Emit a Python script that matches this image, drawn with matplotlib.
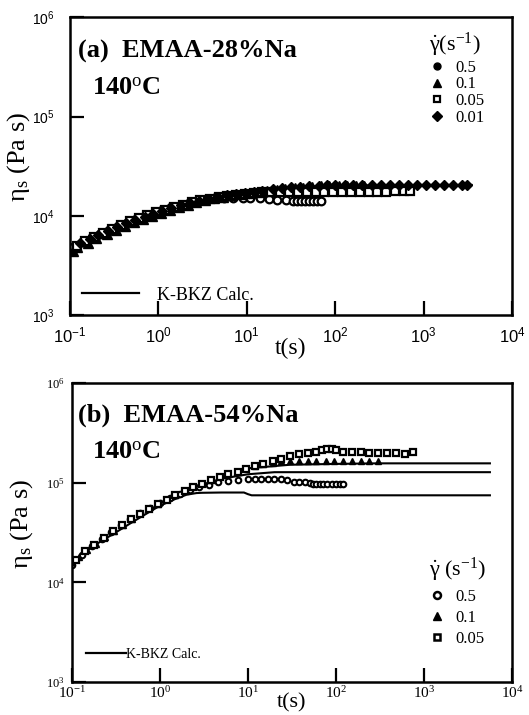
import numpy as np
import matplotlib
matplotlib.use('Agg')
import matplotlib.pyplot as plt
from matplotlib.lines import Line2D

plt.rcParams['font.family'] = ['Liberation Serif', 'DejaVu Serif']
plt.rcParams['mathtext.fontset'] = 'custom'
plt.rcParams['mathtext.rm'] = 'Liberation Serif'
plt.rcParams['mathtext.it'] = 'Liberation Serif:italic'
plt.rcParams['mathtext.bf'] = 'Liberation Serif:bold'
plt.rcParams['mathtext.sf'] = 'Liberation Sans'

# tick positions / labels
xticks = [0.1, 1, 10, 100, 1000, 10000]
yticks = [1e3, 1e4, 1e5, 1e6]
xtick_exp = ['-1', '0', '1', '2', '3', '4']
ytick_exp = ['3', '4', '5', '6']

# ---------------- panel (a) EMAA-28%Na ----------------
a_t_05 = [0.11, 0.14, 0.18, 0.22, 0.28, 0.35, 0.45, 0.56, 0.7, 0.9, 1.1, 1.4, 1.8, 2.2, 2.8, 3.5,
          4.5, 5.6, 7, 9, 11, 14, 18, 22, 28, 33, 37, 41, 45, 50, 56, 63, 70]
a_eta_05 = [4.9e3, 5.5e3, 6.1e3, 6.6e3, 7.2e3, 7.9e3, 8.7e3, 9.4e3, 1.0e4, 1.08e4, 1.14e4, 1.22e4,
            1.3e4, 1.36e4, 1.42e4, 1.47e4, 1.5e4, 1.52e4, 1.53e4, 1.53e4, 1.52e4, 1.5e4, 1.48e4,
            1.46e4, 1.44e4, 1.42e4, 1.41e4, 1.41e4, 1.41e4, 1.41e4, 1.41e4, 1.41e4, 1.41e4]

a_t_01 = [0.11, 0.12, 0.16, 0.2, 0.26, 0.33, 0.42, 0.53, 0.67, 0.85, 1.07, 1.35, 1.7, 2.15, 2.7,
          3.4, 4.3, 5.4, 6.8, 8.6, 11, 14, 17, 22, 27, 35, 43, 55, 70, 85, 110, 135, 170, 210, 260, 330]
a_eta_01 = [4.4e3, 4.9e3, 5.4e3, 6.0e3, 6.6e3, 7.3e3, 8.0e3, 8.7e3, 9.4e3, 1.01e4, 1.08e4, 1.16e4,
            1.23e4, 1.3e4, 1.37e4, 1.44e4, 1.5e4, 1.56e4, 1.61e4, 1.66e4, 1.71e4, 1.76e4, 1.8e4,
            1.84e4, 1.87e4, 1.9e4, 1.93e4, 1.96e4, 1.98e4, 1.99e4, 2.0e4, 2.0e4, 2.0e4, 2.0e4,
            2.0e4, 2.0e4]

a_t_005 = [0.12, 0.15, 0.19, 0.24, 0.3, 0.38, 0.48, 0.6, 0.75, 0.95, 1.2, 1.5, 1.9, 2.4, 3.0, 3.8,
           4.8, 6.0, 7.5, 9.5, 12, 15, 19, 24, 30, 38, 48, 60, 75, 95, 120, 150, 190, 240, 300,
           380, 480, 600, 700]
a_eta_005 = [5.0e3, 5.6e3, 6.2e3, 6.8e3, 7.4e3, 8.1e3, 8.8e3, 9.5e3, 1.02e4, 1.09e4, 1.16e4,
             1.23e4, 1.3e4, 1.37e4, 1.43e4, 1.49e4, 1.55e4, 1.6e4, 1.64e4, 1.68e4, 1.71e4, 1.73e4,
             1.74e4, 1.75e4, 1.75e4, 1.75e4, 1.75e4, 1.75e4, 1.75e4, 1.75e4, 1.75e4, 1.75e4,
             1.75e4, 1.75e4, 1.75e4, 1.76e4, 1.77e4, 1.78e4, 1.78e4]

a_t_001 = [0.13, 0.17, 0.21, 0.27, 0.34, 0.43, 0.55, 0.7, 0.88, 1.1, 1.4, 1.8, 2.3, 2.9, 3.7, 4.7,
           6, 7.6, 9.6, 12, 15, 20, 25, 32, 40, 50, 65, 80, 100, 130, 160, 200, 260, 330, 420, 530,
           670, 850, 1070, 1350, 1700, 2150, 2700, 3100]
a_eta_001 = [5.3e3, 5.9e3, 6.5e3, 7.1e3, 7.7e3, 8.4e3, 9.1e3, 9.8e3, 1.05e4, 1.12e4, 1.2e4,
             1.28e4, 1.35e4, 1.42e4, 1.49e4, 1.55e4, 1.61e4, 1.66e4, 1.7e4, 1.75e4, 1.8e4, 1.85e4,
             1.9e4, 1.94e4, 1.97e4, 2.0e4, 2.02e4, 2.04e4, 2.05e4, 2.05e4, 2.05e4, 2.05e4, 2.05e4,
             2.05e4, 2.05e4, 2.05e4, 2.05e4, 2.05e4, 2.05e4, 2.05e4, 2.05e4, 2.05e4, 2.05e4, 2.05e4]

a_kbkz_t = [0.1, 0.2, 0.5, 1, 2, 5, 10, 20, 50, 100, 300, 1000, 3500]
a_kbkz_eta = [4.7e3, 6.2e3, 8.9e3, 1.1e4, 1.32e4, 1.58e4, 1.74e4, 1.86e4, 1.96e4, 2.0e4, 2.03e4,
              2.05e4, 2.05e4]

# ---------------- panel (b) EMAA-54%Na ----------------
b_t_05 = [0.1, 0.13, 0.17, 0.22, 0.28, 0.36, 0.46, 0.6, 0.77, 1.0, 1.3, 1.7, 2.2, 2.8, 3.6, 4.6, 6,
          7.7, 10, 12, 14, 17, 20, 24, 28, 33, 38, 44, 50, 55, 60, 66, 72, 80, 90, 100, 110, 120]
b_eta_05 = [1.5e4, 1.9e4, 2.3e4, 2.75e4, 3.2e4, 3.75e4, 4.3e4, 5.0e4, 5.6e4, 6.3e4, 7.0e4, 7.7e4,
            8.4e4, 9.0e4, 9.6e4, 1.01e5, 1.05e5, 1.08e5, 1.1e5, 1.1e5, 1.1e5, 1.1e5, 1.1e5,
            1.1e5, 1.08e5, 1.03e5, 1.03e5, 1.03e5, 1.0e5, 9.8e4, 9.8e4, 9.8e4, 9.8e4, 9.8e4,
            9.8e4, 9.8e4, 9.8e4, 9.8e4]

b_t_01 = [0.1, 0.12, 0.15, 0.19, 0.24, 0.3, 0.38, 0.48, 0.6, 0.76, 0.95, 1.2, 1.5, 1.9, 2.4, 3.0,
          3.8, 4.8, 6.0, 7.6, 9.5, 12, 15, 19, 24, 30, 38, 48, 60, 76, 95, 120, 150, 190, 240, 300]
b_eta_01 = [1.6e4, 1.8e4, 2.1e4, 2.45e4, 2.85e4, 3.3e4, 3.8e4, 4.35e4, 4.95e4, 5.6e4, 6.2e4,
            6.9e4, 7.6e4, 8.4e4, 9.2e4, 1.0e5, 1.08e5, 1.16e5, 1.24e5, 1.32e5, 1.4e5, 1.48e5,
            1.55e5, 1.6e5, 1.64e5, 1.66e5, 1.67e5, 1.67e5, 1.67e5, 1.67e5, 1.67e5, 1.67e5,
            1.67e5, 1.67e5, 1.67e5, 1.67e5]

b_t_005 = [0.11, 0.14, 0.18, 0.23, 0.29, 0.37, 0.47, 0.6, 0.75, 0.95, 1.2, 1.5, 1.9, 2.4, 3.0,
           3.8, 4.8, 6.0, 7.6, 9.6, 12, 15, 19, 24, 30, 38, 48, 60, 70, 80, 90, 100, 120, 150,
           190, 240, 300, 380, 480, 600, 750]
b_eta_005 = [1.7e4, 2.05e4, 2.4e4, 2.8e4, 3.25e4, 3.75e4, 4.3e4, 4.9e4, 5.5e4, 6.15e4, 6.8e4,
             7.5e4, 8.25e4, 9.0e4, 9.8e4, 1.06e5, 1.14e5, 1.22e5, 1.3e5, 1.38e5, 1.46e5, 1.55e5,
             1.65e5, 1.75e5, 1.85e5, 1.93e5, 2.0e5, 2.05e5, 2.15e5, 2.2e5, 2.2e5, 2.15e5, 2.05e5,
             2.03e5, 2.02e5, 2.0e5, 2.0e5, 2.0e5, 2.0e5, 1.95e5, 2.02e5]

b_kbkz_05_t = [0.1, 0.15, 0.2, 0.3, 0.5, 0.7, 1, 1.5, 2, 2.6, 3, 5, 9, 10, 11, 100, 1000, 5600]
b_kbkz_05_eta = [1.6e4, 2.1e4, 2.5e4, 3.1e4, 4.1e4, 4.9e4, 5.9e4, 6.9e4, 7.6e4, 7.9e4, 7.95e4,
                 8.0e4, 8.0e4, 7.7e4, 7.5e4, 7.5e4, 7.5e4, 7.5e4]
b_kbkz_01_t = [3, 5, 10, 20, 100, 1000, 5600]
b_kbkz_01_eta = [9.6e4, 1.1e5, 1.22e5, 1.28e5, 1.28e5, 1.28e5, 1.28e5]
b_kbkz_005_t = [10, 30, 100, 300, 1000, 5600]
b_kbkz_005_eta = [1.4e5, 1.52e5, 1.55e5, 1.57e5, 1.57e5, 1.57e5]

fig = plt.figure(figsize=(5.29, 7.15), dpi=100)
ax1 = fig.add_axes([0.132, 0.559, 0.836, 0.417])
ax2 = fig.add_axes([0.136, 0.046, 0.832, 0.418])


def style_axes(ax, fam, yt_size, xt_size, ypad, xpad, xlab_y, ylab_x, xlab_size):
  ax.set_xscale('log')
  ax.set_yscale('log')
  ax.set_xlim(0.1, 1e4)
  ax.set_ylim(1e3, 1e6)
  ax.minorticks_off()
  ax.set_xticks(xticks)
  ax.set_yticks(yticks)
  ax.set_xticklabels([r'$\math%s{10^{%s}}$' % (fam, e) for e in xtick_exp], fontsize=xt_size)
  ax.set_yticklabels([r'$\math%s{10^{%s}}$' % (fam, e) for e in ytick_exp], fontsize=yt_size)
  ax.tick_params(which='major', direction='in', length=10, width=1.6,
                 top=False, right=False)
  ax.tick_params(axis='x', pad=xpad)
  ax.tick_params(axis='y', pad=ypad)
  for s in ax.spines.values():
    s.set_linewidth(1.8)
  ax.set_xlabel('t(s)', fontsize=xlab_size)
  ax.xaxis.set_label_coords(0.5, xlab_y)
  ax.set_ylabel(r'η$_{\rm s}$ (Pa s)', fontsize=19)
  ax.yaxis.set_label_coords(ylab_x, 0.53)


ms = 5.5
# panel (a)
ax1.plot(a_kbkz_t, a_kbkz_eta, color='black', lw=1.5)
ax1.plot(a_t_05, a_eta_05, 'o', color='black', ms=ms, mfc='white', mew=1.6, ls='none')
ax1.plot(a_t_01, a_eta_01, '^', color='black', ms=ms + 1, ls='none')
ax1.plot(a_t_005, a_eta_005, 's', color='black', ms=ms, mfc='white', mew=1.6, ls='none')
ax1.plot(a_t_001, a_eta_001, 'D', color='black', ms=ms, ls='none')
style_axes(ax1, 'sf', 10, 12, 11, 8, -0.075, -0.085, 17)

ax1.text(0.018, 0.885, '(a)  EMAA-28%Na', transform=ax1.transAxes, fontsize=19,
         fontweight='bold', va='center')
ax1.text(0.05, 0.762, r'140$^{\rm o}$C', transform=ax1.transAxes, fontsize=19,
         fontweight='bold', va='center')

h_a = [Line2D([], [], marker='o', color='black', ls='none', ms=5),
       Line2D([], [], marker='^', color='black', ls='none', ms=6),
       Line2D([], [], marker='s', color='black', mfc='white', mew=1.6, ls='none', ms=5),
       Line2D([], [], marker='D', color='black', ls='none', ms=5)]
leg1 = ax1.legend(h_a, ['0.5', '0.1', '0.05', '0.01'], loc='upper left',
                  bbox_to_anchor=(0.782, 1.0), frameon=False, fontsize=12,
                  title=r'$\dot{\mathrm{\gamma}}$(s$^{-1}$)', title_fontsize=16,
                  handlelength=1.0, handletextpad=0.6, labelspacing=0.05, borderpad=0.3)
leg1._legend_box.align = 'left'
ax1.add_artist(leg1)
ax1.legend([Line2D([], [], color='black', lw=1.6)], ['K-BKZ Calc.'], loc='lower left',
           bbox_to_anchor=(0.0, 0.0), frameon=False, fontsize=13, handlelength=3.2,
           handletextpad=1.0, borderpad=0.15)

# panel (b)
ax2.plot(b_kbkz_05_t, b_kbkz_05_eta, color='black', lw=1.5)
ax2.plot(b_kbkz_01_t, b_kbkz_01_eta, color='black', lw=1.5)
ax2.plot(b_kbkz_005_t, b_kbkz_005_eta, color='black', lw=1.5)
ax2.plot(b_t_05, b_eta_05, 'o', color='black', ms=4, mfc='white', mew=1.5, ls='none')
ax2.plot(b_t_01, b_eta_01, '^', color='black', ms=5, ls='none')
ax2.plot(b_t_005, b_eta_005, 's', color='black', ms=4.5, mfc='white', mew=1.6, ls='none')
style_axes(ax2, 'rm', 9, 11, 5, 2, -0.036, -0.085, 16)

ax2.text(0.014, 0.893, '(b)  EMAA-54%Na', transform=ax2.transAxes, fontsize=19,
         fontweight='bold', va='center')
ax2.text(0.045, 0.77, r'140$^{\rm o}$C', transform=ax2.transAxes, fontsize=19,
         fontweight='bold', va='center')

h_b = [Line2D([], [], marker='o', color='black', mfc='white', mew=1.8, ls='none', ms=5),
       Line2D([], [], marker='^', color='black', ls='none', ms=6),
       Line2D([], [], marker='s', color='black', mfc='white', mew=1.8, ls='none', ms=5)]
leg2 = ax2.legend(h_b, ['0.5', '0.1', '0.05'], loc='upper left',
                  bbox_to_anchor=(0.78, 0.467), frameon=False, fontsize=12,
                  title=r'$\dot{\mathrm{\gamma}}$ (s$^{-1}$)', title_fontsize=16,
                  handlelength=1.0, handletextpad=0.6, labelspacing=0.3, borderpad=0.3)
leg2._legend_box.align = 'left'
ax2.add_artist(leg2)
ax2.legend([Line2D([], [], color='black', lw=1.6)], ['K-BKZ Calc.'], loc='lower left',
           bbox_to_anchor=(0.0, 0.025), frameon=False, fontsize=10, handlelength=2.9,
           handletextpad=0.0, borderpad=0.5)

fig.savefig('out.png', dpi=100)
